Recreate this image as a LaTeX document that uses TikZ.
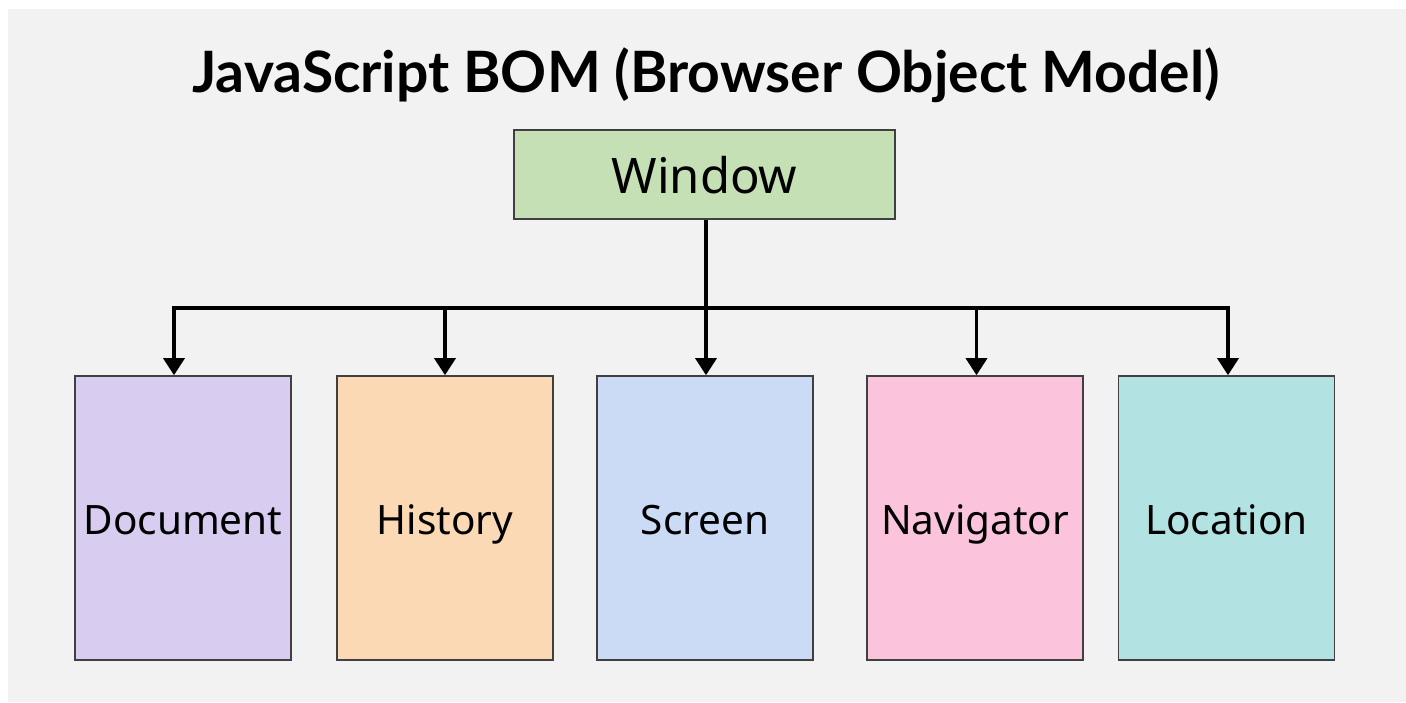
\documentclass[tikz,border=0pt]{standalone}
\usepackage{xcolor}
\usepackage{tikz}
\usepackage{fontspec}
\setmainfont{Noto Sans}
\newfontfamily\titlefont{Lato}
\definecolor{bg1} {RGB} {242, 242, 242}
\definecolor{edge1} {RGB} {64, 64, 64}
\definecolor{green1} {RGB} {197, 224, 180}
\definecolor{violet1} {RGB} {216, 204, 240}
\definecolor{peach1} {RGB} {252, 217, 181}
\definecolor{blue1} {RGB} {204, 219, 245}
\definecolor{pink1} {RGB} {251, 196, 220}
\definecolor{teal1} {RGB} {178, 226, 226}
\usetikzlibrary{calc,arrows.meta,backgrounds}
\tikzstyle{bom}=[
  x=1pt, y=-1pt, font=\fontsize{40.5}{48}\selectfont
]
\tikzstyle{bomnode}=[
  line width=1.6pt, draw=edge1, inner sep=0pt, text height=40pt, text depth=8pt
]
\tikzstyle{bomroot}=[
  bomnode, minimum width=381pt, minimum height=89pt, fill=green1,
  font=\fontsize{49}{58}\selectfont, text height=46pt, text depth=9pt
]
\tikzstyle{bomchild}=[
  bomnode, minimum width=216pt, minimum height=284pt
]
\tikzstyle{bomline}=[
    line width=3.4pt
]
\tikzstyle{bomedge}=[
    bomline, -{Triangle[width=21pt,length=17pt]}
]

\begin{document}
\begin{tikzpicture}[bom]

    \begin{scope}[on background layer]
        \fill [white] (0,0) rectangle (1406,702);
        \fill [bg1] (8,9) rectangle (1406,702);
    \end{scope}

    \node (title) at (706,75) {\titlefont\fontsize{57}{68}\selectfont\bfseries JavaScript BOM (Browser Object Model)};

    \node (window) [bomroot] at (704.5,174.5) {Window};

    \node (doc) [bomchild, fill=violet1] at ($(window) + (-521.5, 343.5)$) {Document};
    \node (hist) [bomchild, fill=peach1] at ($(window) + (-259.5, 343.5)$) {History};
    \node (scr) [bomchild, fill=blue1] at ($(window) + (0.5, 343.5)$) {Screen};
    \node (nav) [bomchild, fill=pink1] at ($(window) + (270.5, 343.5)$) {Navigator};
    \node (loc) [bomchild, fill=teal1] at ($(window) + (522, 343.5)$) {Location};

    \coordinate (hub) at ($(window.south) + (1.5, 88)$);
    \begin{scope}[on background layer]
        \draw [bomline] (window.south -| hub) -- (hub);
        \draw [bomedge] (hub) -| ([xshift=-9pt]doc.north);
        \draw [bomedge] (hub) -| (hist.north);
        \draw [bomedge] (hub) -- (scr.north -| hub);
        \draw [bomedge] (hub) -| ([xshift=1.5pt]nav.north);
        \draw [bomedge] (hub) -| ([xshift=1.5pt]loc.north);
    \end{scope}
    \end{tikzpicture}
\end{document}
